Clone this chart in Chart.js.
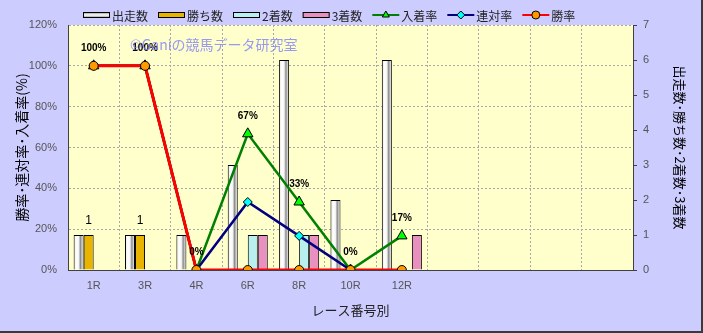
<!DOCTYPE html>
<html lang="ja">
<head>
<meta charset="utf-8">
<title>レース番号別</title>
<script src="https://cdn.jsdelivr.net/npm/chart.js@4/dist/chart.umd.min.js"></script>
<style>
    html, body { margin: 0; padding: 0; background: #CCCCFF; }
    #wrap { width: 703px; height: 333px; }
</style>
</head>
<body>
<div id="wrap"><canvas id="raceChart" width="703" height="333"></canvas></div>
<script>
// ============================================================
//  レース番号別 成績チャート
// ============================================================

const categories = ['1R', '3R', '4R', '6R', '8R', '10R', '12R', '', '', '', ''];

// bar series (right axis, counts)
const runners = [1, 1, 1, 3, 6, 2, 6];
const wins    = [1, 1, 0, 0, 0, 0, 0];
const seconds = [0, 0, 0, 1, 1, 0, 0];
const thirds  = [0, 0, 0, 1, 1, 0, 1];

// line series (left axis, %)
const placeRate    = [100, 100, 0, 66.7, 33.3, 0, 16.7];
const quinellaRate = [100, 100, 0, 33.3, 16.7, 0, null];
const winRate      = [100, 100, 0, 0, 0, 0, 0];

const leftTicks = [0, 20, 40, 60, 80, 100, 120];
const rightTicks = [0, 1, 2, 3, 4, 5, 6, 7];

const CAT_PCT = 0.78;
const JP_FONT = '"Noto Sans CJK JP", "Noto Sans", sans-serif';
const NUM_FONT = '"Liberation Sans", Arial, sans-serif';

// gradient for the white cylinder-like bars
function runnerFill(ctx) {
    const chart = ctx.chart;
    const area = chart.chartArea;
    if (!area || ctx.dataIndex === undefined) return '#eeeeee';
    const center = chart.scales.x.getPixelForValue(ctx.dataIndex);
    const catW = (area.right - area.left) / categories.length;
    const groupW = catW * CAT_PCT;
    const left = center - groupW / 2;
    const w = groupW / 4;
    const g = chart.ctx.createLinearGradient(left, 0, left + w, 0);
    g.addColorStop(0, '#e8e8e8');
    g.addColorStop(0.3, '#ffffff');
    g.addColorStop(0.5, '#f4f4f4');
    g.addColorStop(0.68, '#8c8c8c');
    g.addColorStop(0.85, '#d4d4d4');
    g.addColorStop(1, '#f0f0f0');
    return g;
}

const barBase = {
    type: 'bar',
    yAxisID: 'y2',
    borderColor: '#000000',
    borderWidth: 1,
    borderSkipped: 'start',
    categoryPercentage: CAT_PCT,
    barPercentage: 1,
    order: 10,
};

const lineBase = {
    type: 'line',
    yAxisID: 'y',
    fill: false,
    tension: 0,
    spanGaps: false,
    pointBorderColor: '#000000',
    pointBorderWidth: 1,
};

// background + frame
const framePlugin = {
    id: 'frame',
    beforeDraw(chart) {
        const { ctx, width, height, chartArea: a } = chart;
        ctx.save();
        ctx.fillStyle = '#CCCCFF';
        ctx.fillRect(0, 0, width, height);
        ctx.fillStyle = '#FFFFCC';
        ctx.fillRect(a.left, a.top, a.right - a.left, a.bottom - a.top);
        ctx.restore();
    },
    afterDraw(chart) {
        const { ctx, width, height } = chart;
        ctx.save();
        ctx.fillStyle = '#3a3a3a';
        ctx.fillRect(width - 2, 0, 2, height);
        ctx.fillRect(0, height - 2, width, 2);
        ctx.restore();
    }
};

// value labels above points / bars
const labelPlugin = {
    id: 'valueLabels',
    afterDatasetsDraw(chart) {
        const ctx = chart.ctx;
        ctx.save();
        ctx.fillStyle = '#000000';
        ctx.textAlign = 'center';
        ctx.textBaseline = 'middle';

        ctx.font = 'bold 10px ' + NUM_FONT;
        const placeMeta = chart.getDatasetMeta(4);
        placeRate.forEach((v, i) => {
            if (v === null) return;
            const el = placeMeta.data[i];
            ctx.fillText(Math.round(v) + '%', el.x, el.y - 18);
        });

        ctx.font = '12px ' + NUM_FONT;
        const winMeta = chart.getDatasetMeta(1);
        wins.forEach((v, i) => {
            if (!v) return;
            const el = winMeta.data[i];
            ctx.fillText(String(v), el.x, el.y - 14);
        });

        // watermark
        ctx.font = '14px ' + JP_FONT;
        ctx.textAlign = 'left';
        ctx.fillStyle = 'rgba(128, 128, 250, 0.8)';
        ctx.fillText('©Ganiの競馬データ研究室', 130, 45);
        ctx.restore();
    }
};

// legend drawn in the top strip
const legendPlugin = {
    id: 'topLegend',
    afterDraw(chart) {
        const ctx = chart.ctx;
        const y = 15;
        let x = 83;
        ctx.save();
        ctx.font = '12px ' + JP_FONT;
        ctx.textBaseline = 'middle';
        ctx.textAlign = 'left';
        chart.data.datasets.forEach((ds, i) => {
            if (ds.type === 'bar') {
                let fill = ds.legendColor;
                if (i === 0) {
                    const g = ctx.createLinearGradient(0, y - 3, 0, y + 3);
                    g.addColorStop(0, '#808080');
                    g.addColorStop(0.5, '#ffffff');
                    g.addColorStop(1, '#808080');
                    fill = g;
                }
                ctx.fillStyle = fill;
                ctx.fillRect(x, y - 3, 27, 6);
                ctx.strokeStyle = '#000';
                ctx.lineWidth = 1;
                ctx.strokeRect(x + 0.5, y - 2.5, 26, 5);
            } else {
                ctx.strokeStyle = ds.borderColor;
                ctx.lineWidth = 2;
                ctx.beginPath();
                ctx.moveTo(x, y);
                ctx.lineTo(x + 27, y);
                ctx.stroke();
                ctx.fillStyle = ds.pointBackgroundColor;
                ctx.strokeStyle = '#000';
                ctx.lineWidth = 1;
                Chart.helpers.drawPoint(ctx, {
                    pointStyle: ds.pointStyle,
                    radius: 4,
                    borderWidth: 1,
                }, x + 13.5, y);
            }
            x += 29;
            ctx.fillStyle = '#222';
            ctx.fillText(ds.label, x, y + 1);
            x += ctx.measureText(ds.label).width + 10;
        });
        ctx.restore();
    }
};

new Chart(document.getElementById('raceChart'), {
    data: {
        labels: categories,
        datasets: [
            { ...barBase, label: '出走数', data: runners, backgroundColor: runnerFill, legendColor: '#ffffff' },
            { ...barBase, label: '勝ち数', data: wins, backgroundColor: '#E8B400', legendColor: '#E8B400' },
            { ...barBase, label: '2着数', data: seconds, backgroundColor: '#B8F0F0', legendColor: '#B8F0F0' },
            { ...barBase, label: '3着数', data: thirds, backgroundColor: '#E890C0', legendColor: '#E890C0' },
            { ...lineBase, label: '入着率', data: placeRate, borderColor: '#008000', borderWidth: 2.5,
              pointStyle: 'triangle', pointRadius: 6, pointBackgroundColor: '#00FF00', order: 3 },
            { ...lineBase, label: '連対率', data: quinellaRate, borderColor: '#000080', borderWidth: 2.5,
              pointStyle: 'rectRot', pointRadius: 4.5, pointBackgroundColor: '#00FFFF', order: 2 },
            { ...lineBase, label: '勝率', data: winRate, borderColor: '#FF0000', borderWidth: 3,
              pointStyle: 'circle', pointRadius: 4.5, pointBackgroundColor: '#FF9900', order: 1 },
        ]
    },
    options: {
        responsive: false,
        animation: false,
        devicePixelRatio: 1,
        layout: { padding: { top: 25, left: 0, right: 0, bottom: 0 } },
        plugins: {
            legend: { display: false },
            tooltip: { enabled: false },
        },
        scales: {
            x: {
                type: 'category',
                offset: true,
                grid: { offset: true, color: '#a8a8a8', drawTicks: false },
                border: { display: true, color: '#404040', width: 1, dash: [2, 2] },
                ticks: { color: '#555', font: { family: NUM_FONT, size: 11 }, padding: 9, autoSkip: false, maxRotation: 0 },
                title: { display: true, text: 'レース番号別', color: '#222',
                         font: { family: JP_FONT, size: 13 }, padding: { top: 0, bottom: 15 } },
                afterFit(scale) { scale.height = 63; },
            },
            y: {
                position: 'left',
                min: 0, max: 120,
                afterBuildTicks(scale) { scale.ticks = leftTicks.map(v => ({ value: v })); },
                grid: { color: '#a8a8a8', drawTicks: false },
                border: { display: true, color: '#404040', width: 1, dash: [2, 2] },
                ticks: { color: '#555', font: { family: NUM_FONT, size: 11 }, padding: 11, callback: v => v + '%' },
                title: { display: true, text: '勝率･連対率･入着率(%)', color: '#000',
                         font: { family: JP_FONT, size: 14 }, padding: { top: 13, bottom: 0 } },
                afterFit(scale) { scale.width = 68; },
            },
            y2: {
                position: 'right',
                min: 0, max: 7,
                afterBuildTicks(scale) { scale.ticks = rightTicks.map(v => ({ value: v })); },
                grid: { drawOnChartArea: false, drawTicks: true, tickLength: 4, color: '#404040' },
                border: { display: true, color: '#404040', width: 1 },
                ticks: { color: '#555', font: { family: NUM_FONT, size: 11 }, padding: 6 },
                title: { display: true, text: '出走数･勝ち数･2着数･3着数', color: '#000',
                         font: { family: JP_FONT, size: 13 }, padding: { top: 15, bottom: 0 } },
                afterFit(scale) { scale.width = 70; },
            },
        }
    },
    plugins: [framePlugin, labelPlugin, legendPlugin]
});
</script>
</body>
</html>
